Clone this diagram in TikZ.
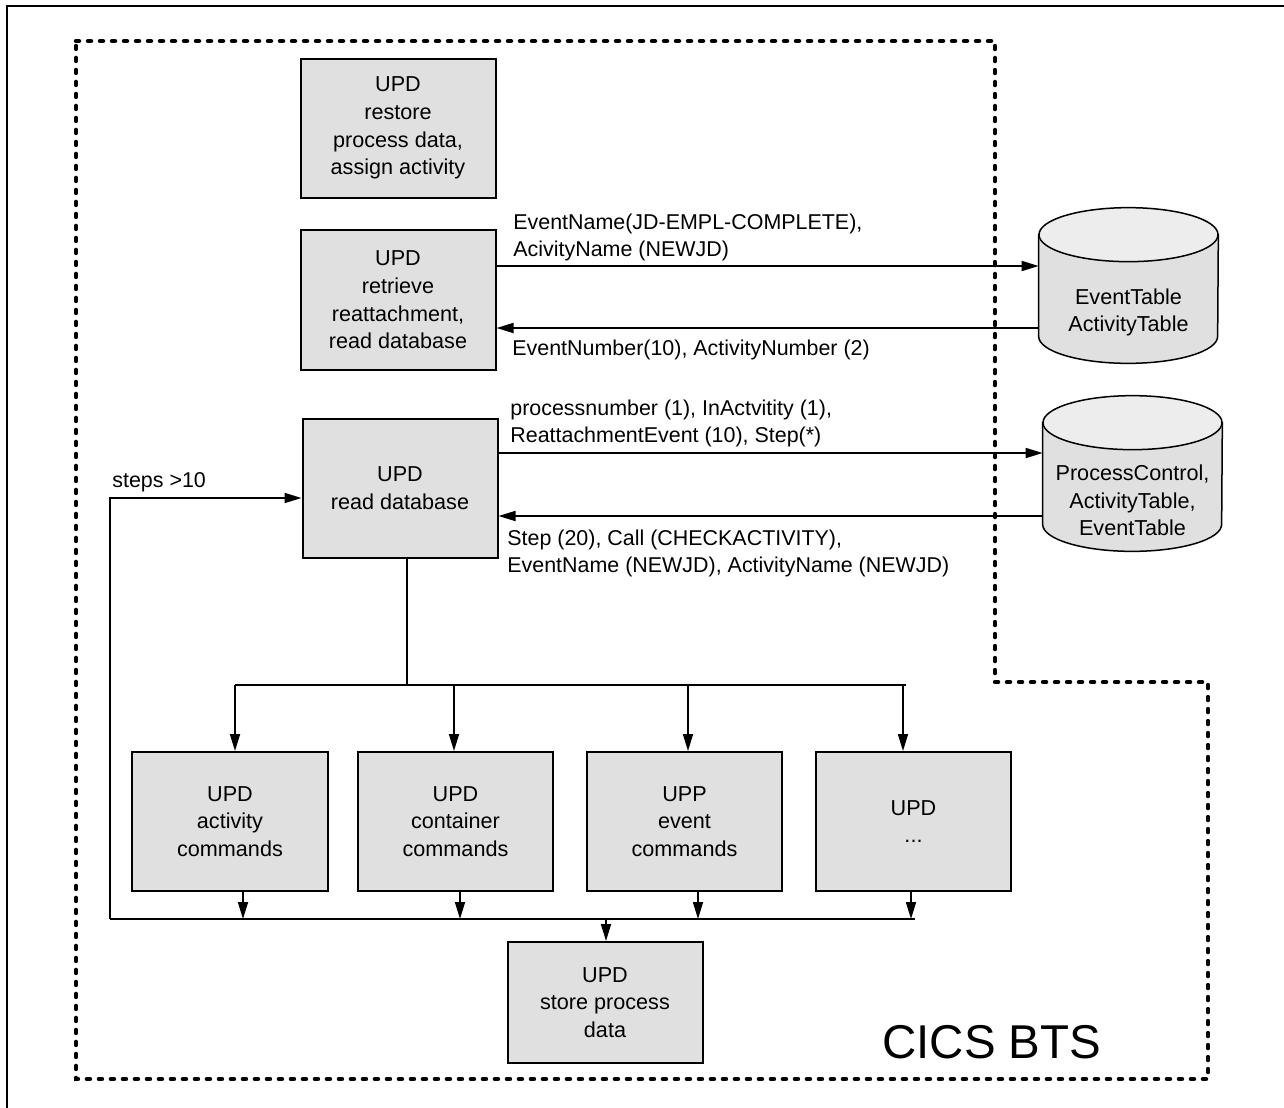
\documentclass[tikz,border=0pt]{standalone}
\usepackage{fontspec}
\setmainfont{Liberation Sans}
\usetikzlibrary{arrows.meta, backgrounds}
\definecolor{btsbox}{HTML}{E0E0E0}
\definecolor{btsend}{HTML}{EDEDED}

\begin{document}
\begin{tikzpicture}[
  x=0.2mm, y=-0.2mm,
  upd/.style={draw, line width=0.4mm, fill=btsbox, minimum width=39mm, minimum height=27.8mm, align=center, font=\fontsize{12.3pt}{15.8pt}\selectfont, inner sep=0pt},
  db/.style={minimum width=35.8mm, minimum height=20.2mm, align=center, font=\fontsize{12.3pt}{15.8pt}\selectfont, inner sep=0pt},
  lbl/.style={anchor=west, align=left, inner sep=0pt, font=\fontsize{12.2pt}{15.4pt}\selectfont},
  arrow/.style={-{Triangle[length=3.4mm,width=2mm]}, line width=0.35mm},
  wire/.style={line width=0.35mm},
  btsline/.style={line width=0.9mm, dash pattern=on 0.6mm off 1.8mm, line cap=round}
]
\useasboundingbox (0,0) rectangle (1284,1108);
\draw[line width=0.4mm] (7,1108) -- (7,6) -- (1284,6);
\draw[btsline] (76,41) -- (995,41) -- (995,682) -- (1208,682) -- (1208,1079) -- (76,1079) -- cycle;

\node[upd] (rst) at (398,128) {UPD\\restore\\process data,\\assign activity};
\node[upd, minimum height=28mm] (ret) at (398,300) {UPD\\retrieve\\reattachment,\\read database};
\node[upd] (rd) at (400,488.5) {UPD\\read database};
\node[upd] (act) at (230,821.5) {UPD\\activity\\commands};
\node[upd] (cont) at (455.5,821.5) {UPD\\container\\commands};
\node[upd] (evt) at (684.5,821.5) {UPP\\event\\commands};
\node[upd] (more) at (913.5,821.5) {UPD\\...};
\node[upd, minimum height=24.2mm] (st) at (605,1002.5) {UPD\\store process\\data};

\node[db] (et) at (1128.5,312.5) {EventTable\\ActivityTable};
\node[db] (pc) at (1132.5,500.5) {ProcessControl,\\ActivityTable,\\EventTable};
\begin{scope}[on background layer]
\foreach \t in {et, pc} {
  \draw[line width=0.3mm, fill=btsbox] ([yshift=5.4mm]\t.north west) -- ([yshift=5.4mm]\t.south west)
    arc[start angle=180, end angle=360, x radius=17.9mm, y radius=5.4mm] -- ([yshift=5.4mm]\t.north east) -- cycle;
  \draw[line width=0.3mm, fill=btsend] ([yshift=5.4mm]\t.north) ellipse[x radius=17.9mm, y radius=5.4mm];
}
\end{scope}

\node[font=\fontsize{27pt}{30pt}\selectfont, anchor=base west, inner sep=0pt] (bts) at (882,1058) {CICS BTS};

\node[lbl] (evq) at (513,237) {EventName(JD-EMPL-COMPLETE),\\AcivityName (NEWJD)};
\node[lbl] (eva) at (512,350) {EventNumber(10), ActivityNumber (2)};
\node[lbl] (pcq) at (510,423.5) {processnumber (1), InActvitity (1),\\ReattachmentEvent (10), Step(*)};
\node[lbl] (pca) at (507,553) {Step (20), Call (CHECKACTIVITY),\\EventName (NEWJD), ActivityName (NEWJD)};
\node[lbl] (lp) at (112,482) {steps >10};

\draw[arrow] ([yshift=6.8mm]ret.east) -- ([yshift=6.8mm]ret.east -| et.west);
\draw[arrow] ([yshift=-5.6mm]ret.east -| et.west) -- ([yshift=-5.6mm]ret.east);
\draw[arrow] ([yshift=7.1mm]rd.east) -- ([yshift=7.1mm]rd.east -| pc.west);
\draw[arrow] ([yshift=-5.5mm]rd.east -| pc.west) -- ([yshift=-5.5mm]rd.east);

\coordinate (fork) at (407,685);
\coordinate (forkl) at (235,685);
\coordinate (forkr) at (906,685);
\draw[wire] (rd.south -| fork) -- (fork);
\draw[wire] (forkl) -- (forkr);
\foreach \x/\b in {235/act, 454/cont, 688/evt, 903/more} {
  \coordinate (t) at (\x,685);
  \draw[arrow] (t) -- (t |- \b.north);
}

\coordinate (busl) at (110,919);
\coordinate (busr) at (915,919);
\coordinate (join) at (606,919);
\draw[wire] (busl) -- (busr);
\foreach \x/\b in {243/act, 460/cont, 698/evt, 911/more} {
  \coordinate (s) at (\x,919);
  \draw[arrow] (s |- \b.south) -- (s);
}
\draw[arrow] (join) -- (join |- st.north);
\draw[arrow] (busl) |- ([yshift=-1.9mm]rd.west);
\end{tikzpicture}
\end{document}
